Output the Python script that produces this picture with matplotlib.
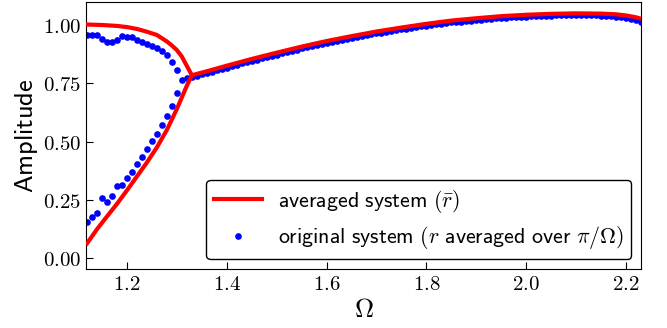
import numpy as np
import matplotlib
matplotlib.use("Agg")
import matplotlib.pyplot as plt

plt.rcParams['mathtext.fontset'] = 'cm'

# averaged system, branches below the fold
red_up_om = [1.12, 1.15, 1.18, 1.20, 1.22, 1.24, 1.26, 1.28, 1.29, 1.30, 1.31, 1.32, 1.33]
red_up_amp = [1.003, 1.001, 0.997, 0.992, 0.984, 0.972, 0.958, 0.930, 0.913, 0.893, 0.865, 0.825, 0.785]
red_low_om = [1.12, 1.14, 1.16, 1.18, 1.20, 1.22, 1.24, 1.26, 1.28, 1.30, 1.31, 1.32, 1.33]
red_low_amp = [0.062, 0.123, 0.178, 0.232, 0.290, 0.350, 0.410, 0.475, 0.550, 0.640, 0.690, 0.740, 0.785]

# averaged system, single branch
red_om = [1.33, 1.36, 1.40, 1.45, 1.50, 1.55, 1.60, 1.65, 1.70, 1.75, 1.80, 1.85,
          1.90, 1.95, 2.00, 2.05, 2.10, 2.15, 2.18, 2.20, 2.22, 2.23]
red_amp = [0.785, 0.802, 0.826, 0.855, 0.882, 0.908, 0.932, 0.953, 0.973, 0.990, 1.006, 1.020,
           1.030, 1.039, 1.045, 1.049, 1.051, 1.050, 1.047, 1.042, 1.034, 1.028]

# original system, two branches for Omega = 1.12 ... 1.30
blue_two_om = np.round(np.arange(1.12, 1.305, 0.01), 2)
blue_up = [0.960, 0.960, 0.960, 0.942, 0.928, 0.928, 0.938, 0.954, 0.950, 0.948,
           0.938, 0.930, 0.920, 0.910, 0.900, 0.889, 0.871, 0.843, 0.807]
blue_low = [0.153, 0.175, 0.192, 0.256, 0.242, 0.264, 0.310, 0.314, 0.343, 0.371,
            0.403, 0.435, 0.467, 0.502, 0.534, 0.573, 0.610, 0.652, 0.709]

# original system, single branch for Omega = 1.31 ... 2.23
blue_one_om = np.round(np.arange(1.31, 2.235, 0.01), 2)
blue_one = [0.764, 0.774, 0.778, 0.783, 0.789, 0.794, 0.800, 0.806, 0.812, 0.818,
            0.824, 0.830, 0.836, 0.841, 0.847, 0.852, 0.858, 0.863, 0.869, 0.874,
            0.879, 0.885, 0.890, 0.895, 0.900, 0.905, 0.910, 0.915, 0.919, 0.924,
            0.928, 0.933, 0.937, 0.941, 0.945, 0.949, 0.953, 0.957, 0.961, 0.965,
            0.968, 0.972, 0.975, 0.979, 0.982, 0.985, 0.988, 0.992, 0.995, 0.998,
            1.001, 1.004, 1.007, 1.009, 1.012, 1.014, 1.016, 1.018, 1.020, 1.022,
            1.024, 1.026, 1.028, 1.029, 1.031, 1.032, 1.034, 1.035, 1.036, 1.037,
            1.038, 1.039, 1.040, 1.040, 1.041, 1.042, 1.042, 1.043, 1.043, 1.043,
            1.043, 1.043, 1.042, 1.042, 1.041, 1.040, 1.039, 1.037, 1.035, 1.032,
            1.028, 1.022, 1.015]

xticks = [1.2, 1.4, 1.6, 1.8, 2.0, 2.2]
yticks = [0.0, 0.25, 0.5, 0.75, 1.0]

fig = plt.figure(figsize=(6.67, 3.28), dpi=100)
ax = fig.add_axes([0.129, 0.180, 0.832, 0.814])

bx = np.concatenate([blue_two_om, blue_two_om, blue_one_om])
by = np.concatenate([blue_up, blue_low, blue_one])
ax.plot(bx, by, 'o', color='b', ms=4.8, mec='none', zorder=2,
        label=r'$\mathsf{original\ system}\ (r\ \mathsf{averaged\ over}\ \pi/\Omega)$')
ax.plot(red_up_om + red_om[1:], red_up_amp + red_amp[1:], color='r', lw=3, zorder=3,
        label=r'$\mathsf{averaged\ system}\ (\bar{r})$')
ax.plot(red_low_om, red_low_amp, color='r', lw=3, zorder=3)

ax.set_xlim(1.118, 2.23)
ax.set_ylim(-0.048, 1.10)
ax.set_xticks(xticks)
ax.set_xticklabels([r'$%.1f$' % t for t in xticks])
ax.set_yticks(yticks)
ax.set_yticklabels([r'$%.2f$' % t for t in yticks])
ax.tick_params(direction='in', length=5, labelsize=15, top=False, right=False)
ax.set_xlabel(r'$\Omega$', fontsize=19, labelpad=2)
ax.set_ylabel(r'$\mathsf{Amplitude}$', fontsize=19, labelpad=2)

h, l = ax.get_legend_handles_labels()
leg = ax.legend(h[::-1], l[::-1], loc='lower right', fontsize=15.8, frameon=True,
                fancybox=True, edgecolor='k', framealpha=1, handlelength=2.2,
                borderpad=0.35, handletextpad=0.7, labelspacing=0.45, borderaxespad=0.45)
leg.get_frame().set_linewidth(1.0)

fig.savefig('out.png', dpi=100)
